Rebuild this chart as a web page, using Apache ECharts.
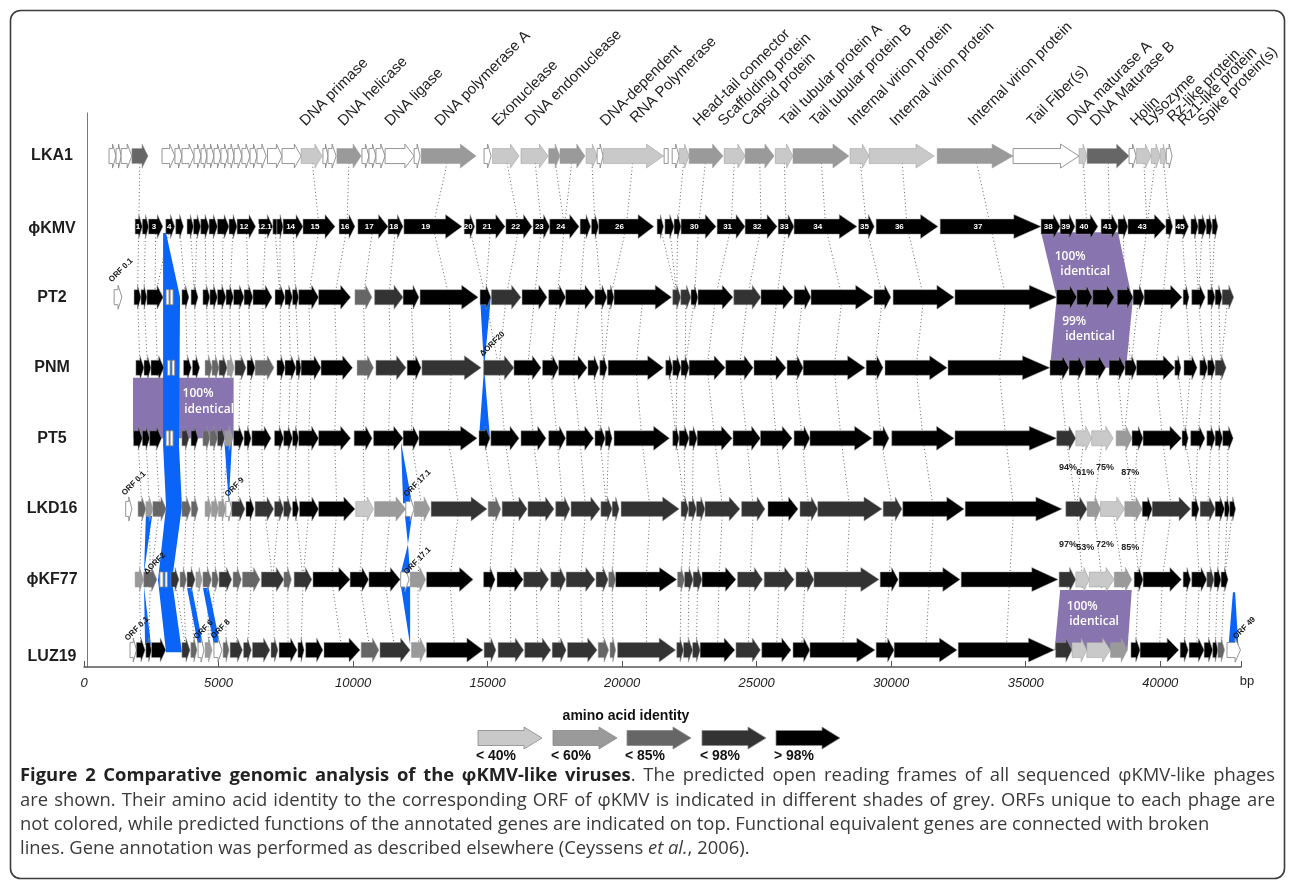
<!DOCTYPE html>
<html><head><meta charset="utf-8">
<script src="https://cdn.jsdelivr.net/npm/echarts@6.0.0/dist/echarts.min.js"></script>
<style>html,body{margin:0;padding:0;background:#fff}#c{width:1290px;height:883px}</style>
</head><body><div id="c"></div>
<script>
// ---------------- DATA (bp coordinates, shade key) ----------------
const TRACK_NAMES = ['LKA1','ϕKMV','PT2','PNM','PT5','LKD16','ϕKF77','LUZ19'];
const AXIS_TICKS = [0,5000,10000,15000,20000,25000,30000,35000,40000];
// shade keys: w=unique(white) l=<40% m=<60% d=<85% k=<98% b=>98%
const LKA1 = [[930,1190,'w'],[1190,1380,'w'],[1380,1780,'w'],[1780,2380,'d'],[2900,3380,'w'],[3380,3640,'w'],[3640,4090,'w'],[4090,4350,'w'],[4350,4570,'w'],[4570,4830,'w'],[4830,5090,'w'],[5090,5350,'w'],[5350,5580,'w'],[5580,5870,'w'],[5870,6170,'w'],[6170,6430,'w'],[6430,6770,'w'],[6820,7360,'w'],[7360,8070,'w'],[8070,8850,'l'],[8880,9070,'w'],[9070,9370,'w'],[9400,10300,'m'],[10330,10590,'w'],[10590,10850,'w'],[10850,11190,'w'],[11190,12270,'w'],[12270,12490,'w'],[12530,14570,'m'],[14870,15130,'w'],[15180,16170,'l'],[16240,17250,'l'],[17270,17690,'m'],[17690,18620,'m'],[18660,19070,'l'],[19070,19290,'w'],[19290,21540,'l'],[21560,21710,'w'],[21860,22120,'w'],[22120,22490,'l'],[22490,23750,'m'],[23790,24570,'l'],[24570,25650,'m'],[25690,26350,'l'],[26350,28430,'m'],[28470,29180,'l'],[29180,31600,'l'],[31710,34530,'m'],[34530,36980,'w'],[36980,37280,'l'],[37280,38840,'d'],[38840,39100,'w'],[39100,39660,'l'],[39660,40000,'l'],[40000,40220,'l'],[40220,40440,'w']];
const KMV = [[1900,2170,'b','1'],[2170,2400,'b',''],[2400,2930,'b','3'],[3040,3370,'b','4'],[3410,3700,'b',''],[3830,4070,'b',''],[4070,4340,'b',''],[4340,4650,'b',''],[4650,4960,'b',''],[4960,5390,'b',''],[5390,5690,'b',''],[5690,6380,'b','12'],[6490,7020,'b','12.1'],[7020,7170,'b',''],[7170,7400,'b',''],[7400,8140,'b','14'],[8140,9330,'b','15'],[9480,10070,'b','16'],[10180,11300,'b','17'],[11300,11860,'b','18'],[11890,14050,'b','19'],[14130,14520,'b','20'],[14570,15650,'b','21'],[15680,16650,'b','22'],[16690,17310,'b','23'],[17310,18400,'b','24'],[18440,18830,'b',''],[18860,19130,'b',''],[19130,21180,'b','26'],[21300,21540,'b',''],[21590,21930,'b',''],[21930,22190,'b',''],[22190,23490,'b','30'],[23530,24570,'b','31'],[24570,25760,'b','32'],[25800,26390,'b','33'],[26390,28730,'b','34'],[28790,29370,'b','35'],[29440,31740,'b','36'],[31820,35570,'b','37'],[35570,36280,'b','38'],[36280,36830,'b','39'],[36860,37680,'b','40'],[37800,38430,'b','41'],[38430,38800,'b',''],[38800,40210,'b','43'],[40210,40460,'b',''],[40560,41050,'b','45'],[41140,41410,'b',''],[41410,41710,'b',''],[41710,41930,'b',''],[41930,42140,'b','']];
const PT2 = [[1120,1410,'w'],[1860,2120,'b'],[2120,2340,'b'],[2340,2940,'b'],[3050,3160,'w'],[3200,3310,'w'],[3640,3900,'b'],[3980,4240,'b'],[4420,4680,'b'],[4680,4960,'b'],[4960,5280,'b'],[5280,5560,'b'],[5560,5950,'b'],[5950,6280,'b'],[6280,6990,'b'],[7100,7470,'b'],[7470,7750,'b'],[7750,7980,'b'],[7980,8720,'b'],[8720,9910,'b'],[10070,10700,'d'],[10800,11860,'k'],[11860,12450,'b'],[12490,14650,'b'],[14720,15120,'b'],[15140,16240,'k'],[16280,17210,'b'],[17270,17900,'b'],[17900,18960,'b'],[18990,19440,'b'],[19440,19700,'b'],[19700,21840,'b'],[21880,22180,'k'],[22180,22560,'k'],[22560,22820,'b'],[22820,24120,'b'],[24150,25160,'k'],[25160,26350,'b'],[26390,27020,'b'],[27020,29330,'b'],[29360,29990,'b'],[30070,32340,'b'],[32370,36150,'b'],[36150,36900,'b'],[36900,37470,'b'],[37490,38290,'b'],[38400,38990,'b'],[38990,39400,'b'],[39400,40810,'b'],[40850,41070,'b'],[41170,41670,'b'],[41760,42040,'b'],[42040,42300,'b'],[42300,42730,'k']];
const PNM = [[1930,2230,'b'],[2230,2490,'b'],[2490,2970,'b'],[3100,3200,'w'],[3270,3370,'w'],[3700,3990,'b'],[4030,4300,'b'],[4500,4760,'d'],[4760,5020,'d'],[5020,5320,'k'],[5320,5580,'m'],[5610,6020,'k'],[6060,6360,'b'],[6360,7060,'d'],[7170,7470,'b'],[7470,7880,'b'],[7880,8070,'b'],[8070,8810,'b'],[8810,9980,'b'],[10150,10760,'d'],[10850,11970,'k'],[12010,12530,'b'],[12560,14760,'k'],[14850,15980,'k'],[15980,16990,'b'],[17040,17640,'b'],[17640,18700,'b'],[18730,19130,'b'],[19170,19440,'b'],[19480,21540,'b'],[21620,21880,'b'],[21880,22190,'b'],[22190,22490,'b'],[22490,23830,'b'],[23850,24870,'b'],[24900,26090,'b'],[26130,26730,'b'],[26730,29030,'b'],[29070,29700,'b'],[29770,32080,'b'],[32110,35900,'b'],[35900,36610,'b'],[36610,37170,'b'],[37210,37970,'b'],[38100,38690,'b'],[38690,39120,'b'],[39120,40540,'b'],[40540,40770,'b'],[40880,41370,'b'],[41470,41760,'b'],[41760,42040,'b'],[42040,42450,'k']];
const PT5 = [[1840,2170,'b'],[2170,2440,'b'],[2440,2880,'b'],[3050,3160,'w'],[3200,3310,'w'],[3640,3900,'k'],[3980,4240,'b'],[4420,4680,'d'],[4680,4960,'d'],[4960,5230,'k'],[5230,5540,'m'],[5560,5930,'b'],[5950,6210,'b'],[6240,6950,'b'],[7080,7420,'b'],[7420,7750,'b'],[7750,7980,'b'],[7980,8720,'b'],[8720,9910,'b'],[10040,10710,'b'],[10760,11860,'b'],[11860,12450,'b'],[12450,14610,'b'],[14680,15090,'b'],[15120,16170,'b'],[16240,17170,'b'],[17270,17900,'b'],[17920,18940,'b'],[18990,19370,'b'],[19370,19630,'b'],[19700,21760,'b'],[21880,22120,'b'],[22120,22490,'b'],[22490,22790,'b'],[22790,24090,'b'],[24120,25140,'b'],[25140,26320,'b'],[26390,26980,'b'],[26980,29290,'b'],[29330,29920,'b'],[30020,32340,'b'],[32370,36150,'b'],[36150,36860,'k'],[36860,37450,'l'],[37450,38250,'l'],[38360,38950,'m'],[38950,39360,'b'],[39360,40790,'b'],[40810,41040,'b'],[41130,41660,'b'],[41730,42040,'b'],[42040,42320,'b'],[42320,42710,'b']];
const LKD16 = [[1550,1780,'w'],[2010,2300,'d'],[2300,2560,'m'],[2560,3060,'d'],[3640,3970,'d'],[3990,4240,'d'],[4500,4740,'m'],[4740,5000,'m'],[5000,5270,'m'],[5270,5490,'w'],[5490,5980,'k'],[6020,6320,'b'],[6360,7050,'k'],[7080,7420,'k'],[7420,7710,'k'],[7750,7980,'b'],[8010,8720,'b'],[8720,10070,'b'],[10100,10760,'l'],[10800,11960,'m'],[11960,12270,'w'],[12270,12860,'m'],[12900,14980,'k'],[15020,15490,'d'],[15540,16470,'k'],[16500,17470,'k'],[17530,18060,'k'],[18100,19180,'k'],[19210,19630,'k'],[19630,19890,'k'],[19960,22120,'k'],[22190,22470,'k'],[22470,22760,'k'],[22760,23080,'k'],[23080,24380,'k'],[24440,25310,'k'],[25420,26540,'b'],[26610,27270,'k'],[27270,29660,'k'],[29700,30400,'k'],[30430,32710,'b'],[32750,36350,'b'],[36490,37280,'k'],[37280,37780,'m'],[37780,38680,'l'],[38680,39330,'m'],[39330,39700,'b'],[39700,41130,'k'],[41170,41440,'b'],[41480,42040,'k'],[42040,42390,'b'],[42390,42580,'b'],[42580,42800,'b']];
const KF77 = [[1900,2220,'m'],[2220,2710,'d'],[2820,2940,'w'],[3010,3100,'w'],[3230,3530,'k'],[3570,3810,'d'],[3830,4130,'k'],[4160,4390,'m'],[4420,4740,'d'],[4760,5000,'d'],[5020,5490,'k'],[5540,5850,'d'],[5890,6540,'d'],[6590,7430,'k'],[7430,7710,'d'],[7810,8470,'k'],[8510,9890,'b'],[9890,10580,'b'],[10590,11750,'b'],[11770,12080,'w'],[12120,12700,'m'],[12730,14460,'b'],[14850,15280,'b'],[15350,16320,'b'],[16340,17270,'k'],[17350,17900,'k'],[17920,18990,'k'],[19030,19480,'k'],[19500,19760,'d'],[19760,22030,'b'],[22060,22320,'d'],[22320,22640,'k'],[22640,22970,'k'],[22970,24230,'b'],[24290,25220,'k'],[25280,26390,'k'],[26460,27130,'k'],[27130,29550,'k'],[29590,30260,'b'],[30290,32560,'b'],[32600,36200,'b'],[36240,36860,'k'],[36860,37360,'l'],[37360,38290,'l'],[38290,38940,'m'],[39030,39360,'b'],[39360,40790,'b'],[40850,41130,'b'],[41170,41730,'b'],[41730,42000,'k'],[42000,42260,'b'],[42260,42520,'b']];
const LUZ19 = [[1710,1950,'w'],[1950,2270,'b'],[2300,2510,'b'],[2510,3040,'b'],[3640,3940,'k'],[3970,4200,'d'],[4240,4460,'w'],[4500,4760,'m'],[4830,5130,'w'],[5170,5390,'d'],[5430,5890,'k'],[5930,6220,'k'],[6260,6910,'k'],[6950,7210,'k'],[7250,7920,'b'],[7950,8180,'b'],[8240,8880,'b'],[8920,10260,'b'],[10300,10960,'d'],[11000,12120,'k'],[12170,12700,'m'],[12730,14830,'b'],[14870,15310,'k'],[15390,16340,'k'],[16380,17350,'k'],[17400,17920,'k'],[17970,19070,'k'],[19110,19500,'d'],[19550,19760,'d'],[19830,21990,'k'],[22030,22280,'k'],[22280,22620,'k'],[22620,22900,'k'],[22900,24190,'b'],[24230,25140,'k'],[25190,26280,'b'],[26350,26980,'b'],[26980,29400,'b'],[29440,30110,'b'],[30110,32450,'b'],[32490,36070,'b'],[36110,36720,'k'],[36720,37270,'l'],[37270,38150,'l'],[38150,38780,'m'],[38910,39250,'b'],[39250,40690,'b'],[40740,41040,'b'],[41070,41630,'b'],[41630,41950,'b'],[41950,42140,'b'],[42140,42390,'d'],[42480,42980,'w']];

// identical-region bands (bp, track position)
const PURPLE = [
  [[35570,1.08],[38430,1.08],[38940,2],[36150,2]],
  [[36150,2],[38990,2],[38730,3],[35900,3]],
  [[1820,3.14],[5560,3.14],[5560,4],[1820,4]],
  [[36280,6.15],[38940,6.15],[38780,7],[36070,7]]
];
const BLUE = [
  [[2940,1.09],[3050,1.09],[3570,2.0],[3530,4.1],[3640,4.97],[3270,6.01],[3640,7.03],[3050,7.03],[2750,6.01],[3050,4.97],[2940,4.1]],
  [[14720,2],[15120,2],[14870,3],[15090,4],[14680,4],[14870,3]],
  [[5220,4.05],[5500,4.05],[5380,4.92]],
  [[11780,4.05],[12190,4.92],[11860,4.92]],
  [[11930,5.1],[12190,5.1],[12040,5.5],[12120,5.9],[11780,5.9],[12040,5.5]],
  [[11780,6.1],[12120,6.1],[12120,6.93]],
  [[2300,5.1],[2530,5.1],[2230,5.9]],
  [[2230,6.1],[2270,6.93],[2490,6.93]],
  [[3830,6.12],[4010,6.12],[4420,6.93],[4240,6.93]],
  [[4420,6.12],[4630,6.12],[5060,6.93],[4830,6.93]],
  [[42700,6.18],[42780,6.18],[42900,6.93],[42540,6.93]]
];
const PURPLE_TEXT = [['100%',36650,1.42],['identical',37210,1.63],['99%',36800,2.35],['identical',37390,2.56],['100%',4240,3.36],['identical',4650,3.59],['100%',37100,6.39],['identical',37540,6.60]];
const PCT_TEXT = [['94%',36570,4.42],['61%',37210,4.48],['75%',37950,4.42],['87%',38880,4.48],['97%',36570,5.51],['53%',37210,5.55],['72%',37950,5.51],['85%',38880,5.55]];
const ORF_TEXT = [['ORF 0.1',1080,1.81],['ΔORF20',14870,2.86],['ORF 0.1',1560,4.83],['ORF 9',5390,4.85],['ORF 17.1',12040,4.85],['ΔORF2',2380,5.95],['ORF 17.1',12040,5.95],['ORF 0.1',1670,6.89],['ORF 6',4240,6.87],['ORF 8',4870,6.86],['ORF 49',42860,6.87]];
const FUNC_NAMES = ['DNA primase','DNA helicase','DNA ligase','DNA polymerase A','Exonuclease','DNA endonuclease','DNA-dependent','RNA Polymerase','Head-tail connector','Scaffolding protein','Capsid protein','Tail tubular protein A','Tail tubular protein B','Internal virion protein','Internal virion protein','Internal virion protein','Tail Fiber(s)','DNA maturase A','DNA Maturase B','Holin','Lysozyme','Rz-like protein','Rz1-like protein','Spike protein(s)'];
const FUNC_POS = [8210,9630,11370,13230,15350,16580,19370,20480,22820,23750,24640,26060,27170,28580,30140,33040,35240,36720,37580,39070,39550,40440,40850,41590];
const LEGEND_LABELS = ['< 40%','< 60%','< 85%','< 98%','> 98%'];
const LEGEND_KEYS = ['l','m','d','k','b'];

// ---------------- STYLE ----------------
const SHADE = {w:'#ffffff', l:'#c9c9c9', m:'#9a9a9a', d:'#666666', k:'#333333', b:'#000000'};
const TRACK_GENES = [LKA1, KMV, PT2, PNM, PT5, LKD16, KF77, LUZ19];
const BH = 7.5, HH = 12;

function arrowPts(x1, x2, y, bh, hh) {
  const w = x2 - x1;
  if (w < 5) return [[x1,y-bh],[x2,y-bh],[x2,y+bh],[x1,y+bh]];
  const hl = Math.min(0.25*w + 2, 0.5*w);
  return [[x1,y-bh],[x2-hl,y-bh],[x2-hl,y-hh],[x2,y],[x2-hl,y+hh],[x2-hl,y+bh],[x1,y+bh]];
}

const arrowItems = [];
TRACK_GENES.forEach((genes, t) => genes.forEach(g => arrowItems.push({v:[g[0], g[1], t], shade:g[2], label:g[3] || ''})));

// dotted connectors between consecutive tracks (nearest equivalent gene)
const links = [];
for (let i = 0; i < TRACK_GENES.length - 1; i++) {
  const up = TRACK_GENES[i], dn = TRACK_GENES[i+1];
  up.forEach(g => {
    if (g[2] === 'w') return;
    const m = (g[0]+g[1])/2;
    let best = null, bd = 1e9;
    dn.forEach(h => { if (h[2] === 'w') return; const mh = (h[0]+h[1])/2; const d = Math.abs(mh-m); if (d < bd) { bd = d; best = mh; } });
    if (best !== null && bd < (i === 0 ? 2500 : 1200)) links.push([m, i, best, i+1]);
  });
}

const BASE_FONT = '"Liberation Sans", Arial, sans-serif';
const NARROW_FONT = '"Liberation Sans Narrow", "Liberation Sans", Arial, sans-serif';

const option = {
  animation: false,
  backgroundColor: '#fff',
  grid: {left: 84, right: 49, top: 113, bottom: 216, containLabel: false, outerBoundsMode: 'none'},
  xAxis: {
    type: 'value', min: 0, max: 43000, interval: 5000,
    axisLine: {show: true, onZero: false, lineStyle: {color: '#555', width: 1.5}},
    axisTick: {show: true, inside: true, length: 6, lineStyle: {color: '#555'}},
    splitLine: {show: false},
    axisLabel: {
      margin: 10, color: '#222', fontSize: 13, fontStyle: 'italic', fontFamily: NARROW_FONT,
      formatter: v => AXIS_TICKS.indexOf(v) >= 0 ? String(v) : ''
    }
  },
  yAxis: {
    type: 'value', inverse: true, min: -0.61, max: 7.24, offset: -3,
    axisLine: {show: true, onZero: false, lineStyle: {color: '#777', width: 1}},
    axisTick: {show: false}, axisLabel: {show: false}, splitLine: {show: false}
  },
  series: [
    { // dotted connectors
      type: 'custom', z: 1, silent: true,
      data: links, encode: {x: [0,2], y: [1,3]},
      renderItem: (params, api) => {
        const a = api.coord([api.value(0), api.value(1)]);
        const b = api.coord([api.value(2), api.value(3)]);
        return {type: 'line', shape: {x1: a[0], y1: a[1], x2: b[0], y2: b[1]},
          style: {stroke: '#3a3a3a', lineWidth: 0.8, lineDash: [1, 2.6]}};
      }
    },
    { // purple identical blocks
      type: 'custom', z: 2, silent: true,
      data: PURPLE.map(p => [p[0][0], p[0][1]]), encode: {x: 0, y: 1},
      renderItem: (params, api) => ({type: 'polygon',
        shape: {points: PURPLE[params.dataIndex].map(p => api.coord(p))},
        style: {fill: '#8874ae'}})
    },
    { // blue indel markers
      type: 'custom', z: 3, silent: true,
      data: BLUE.map(p => [p[0][0], p[0][1]]), encode: {x: 0, y: 1},
      renderItem: (params, api) => ({type: 'polygon',
        shape: {points: BLUE[params.dataIndex].map(p => api.coord(p))},
        style: {fill: '#0a64f8'}})
    },
    { // genes
      type: 'custom', z: 4, silent: true,
      data: arrowItems.map(d => d.v), encode: {x: [0,1], y: 2},
      renderItem: (params, api) => {
        const d = arrowItems[params.dataIndex];
        const p1 = api.coord([d.v[0], d.v[2]]);
        const p2 = api.coord([d.v[1], d.v[2]]);
        const children = [{type: 'polygon', shape: {points: arrowPts(p1[0], p2[0], p1[1], BH, HH)},
          style: {fill: SHADE[d.shade], stroke: d.shade === 'w' ? '#8a8a8a' : '#9a9a9a', lineWidth: d.shade === 'w' ? 0.9 : 0.5}}];
        if (d.label) {
          const w = p2[0] - p1[0];
          const hl = Math.min(0.25*w + 2, 0.5*w);
          children.push({type: 'text', x: (p1[0] + p2[0] - hl)/2 + 1, y: p1[1] + 0.5,
            style: {text: d.label, fill: '#fff', font: 'bold 8px ' + BASE_FONT, align: 'center', verticalAlign: 'middle'}});
        }
        return {type: 'group', children};
      }
    },
    { // track names
      type: 'custom', z: 5, silent: true,
      data: TRACK_NAMES.map((n, i) => [0, i]), encode: {x: 0, y: 1},
      renderItem: (params, api) => {
        const i = params.dataIndex;
        const y = api.coord([0, i])[1] + (i === 7 ? 7 : (i === 1 ? 2 : 0));
        return {type: 'text', x: 52, y: y,
          style: {text: TRACK_NAMES[i], fill: '#1e1e1e', font: 'bold 16px ' + BASE_FONT, align: 'center', verticalAlign: 'middle'}};
      }
    },
    { // function annotations on top
      type: 'custom', z: 5, silent: true,
      data: FUNC_POS.map(p => [p, 0]), encode: {x: 0, y: 1},
      renderItem: (params, api) => {
        const i = params.dataIndex;
        const x = api.coord([FUNC_POS[i], 0])[0] + 3;
        const y = (FUNC_NAMES[i] === 'RNA Polymerase' ? 122 : (FUNC_NAMES[i] === 'Rz-like protein' ? 121 : 125)) + 4;
        return {type: 'text', x: x, y: y, rotation: Math.PI/4,
          style: {text: FUNC_NAMES[i], fill: '#222', font: '15px ' + BASE_FONT, align: 'left', verticalAlign: 'bottom'}};
      }
    },
    { // ORF labels
      type: 'custom', z: 5, silent: true,
      data: ORF_TEXT.map(o => [o[1], o[2]]), encode: {x: 0, y: 1},
      renderItem: (params, api) => {
        const o = ORF_TEXT[params.dataIndex];
        const p = api.coord([o[1], o[2]]);
        return {type: 'text', x: p[0], y: p[1], rotation: Math.PI/4,
          style: {text: o[0], fill: '#111', font: 'bold 8px ' + BASE_FONT, align: 'left', verticalAlign: 'bottom'}};
      }
    },
    { // identity percentages
      type: 'custom', z: 5, silent: true,
      data: PCT_TEXT.map(o => [o[1], o[2]]), encode: {x: 0, y: 1},
      renderItem: (params, api) => {
        const o = PCT_TEXT[params.dataIndex];
        const p = api.coord([o[1], o[2]]);
        return {type: 'text', x: p[0], y: p[1],
          style: {text: o[0], fill: '#222', font: 'bold 9px ' + BASE_FONT, align: 'center', verticalAlign: 'middle'}};
      }
    },
    { // "identical" texts on purple
      type: 'custom', z: 5, silent: true,
      data: PURPLE_TEXT.map(o => [o[1], o[2]]), encode: {x: 0, y: 1},
      renderItem: (params, api) => {
        const o = PURPLE_TEXT[params.dataIndex];
        const p = api.coord([o[1], o[2]]);
        return {type: 'text', x: p[0], y: p[1],
          style: {text: o[0], fill: '#fff', font: '600 12px "Open Sans", sans-serif', align: 'center', verticalAlign: 'middle'}};
      }
    }
  ],
  graphic: []
};

// frame
option.graphic.push({type: 'rect', left: 8, top: 8, shape: {width: 1274, height: 868, r: 10},
  style: {fill: 'none', stroke: '#3c3c3c', lineWidth: 1.6}, silent: true});
// bp unit
option.graphic.push({type: 'text', x: 1247, y: 681, style: {text: 'bp', fill: '#222', font: '13px ' + NARROW_FONT, align: 'center', verticalAlign: 'middle'}});
// legend
option.graphic.push({type: 'text', x: 626, y: 716, style: {text: 'amino acid identity', fill: '#111', font: 'bold 14px ' + NARROW_FONT, align: 'center', verticalAlign: 'middle'}});
const LX = [478, 553, 627, 702, 776];
LX.forEach((x, i) => {
  option.graphic.push({type: 'polygon', shape: {points: arrowPts(x, x + 64, 738, 7.5, 11)},
    style: {fill: SHADE[LEGEND_KEYS[i]], stroke: '#888', lineWidth: 0.8}});
  option.graphic.push({type: 'text', x: x + 18, y: 756, style: {text: LEGEND_LABELS[i], fill: '#111', font: 'bold 14px ' + NARROW_FONT, align: 'center', verticalAlign: 'middle'}});
});

// caption (lines 1-2 justified to the text block width)
const CAP_SIZE = 18.4;
const CAP_LEFT = 20, CAP_RIGHT = 1275;
const CAPTION = [
  {just: true, segs: [['Figure 2 Comparative genomic analysis of the φKMV-like viruses','b'],['. The predicted open reading frames of all sequenced φKMV-like phages','n']]},
  {just: true, segs: [['are shown. Their amino acid identity to the corresponding ORF of φKMV is indicated in different shades of grey. ORFs unique to each phage are','n']]},
  {just: false, segs: [['not colored, while predicted functions of the annotated genes are indicated on top. Functional equivalent genes are connected with broken','n']]},
  {just: false, segs: [['lines. Gene annotation was performed as described elsewhere (Ceyssens ','n'],['et al.','i'],[', 2006).','n']]}
];
const CAP_Y = [776, 801, 825, 849];
const meas = document.createElement('canvas').getContext('2d');
function capFont(k) { return (k === 'b' ? 'bold ' : k === 'i' ? 'italic ' : '') + CAP_SIZE + 'px "Open Sans", sans-serif'; }
function wid(t, k) { meas.font = capFont(k); return meas.measureText(t).width; }
CAPTION.forEach((line, li) => {
  let words = [[]];
  line.segs.forEach(([txt, k]) => {
    txt.split(' ').forEach((p, j) => { if (j > 0) words.push([]); if (p) words[words.length - 1].push([p, k]); });
  });
  words = words.filter(w => w.length);
  const ww = words.map(w => w.reduce((s, p) => s + wid(p[0], p[1]), 0));
  const total = ww.reduce((a, b) => a + b, 0);
  const space = line.just ? (CAP_RIGHT - CAP_LEFT - total) / (words.length - 1) : wid(' ', 'n');
  let x = CAP_LEFT;
  words.forEach((w, wi) => {
    let px = x;
    w.forEach(([t, k]) => {
      option.graphic.push({type: 'text', x: px, y: CAP_Y[li],
        style: {text: t, font: capFont(k), fill: k === 'b' ? '#222' : '#3a3a3a', align: 'left', verticalAlign: 'middle'}});
      px += wid(t, k);
    });
    x += ww[wi] + space;
  });
});

const chart = echarts.init(document.getElementById('c'), null, {renderer: 'canvas'});
chart.setOption(option);
</script></body></html>
